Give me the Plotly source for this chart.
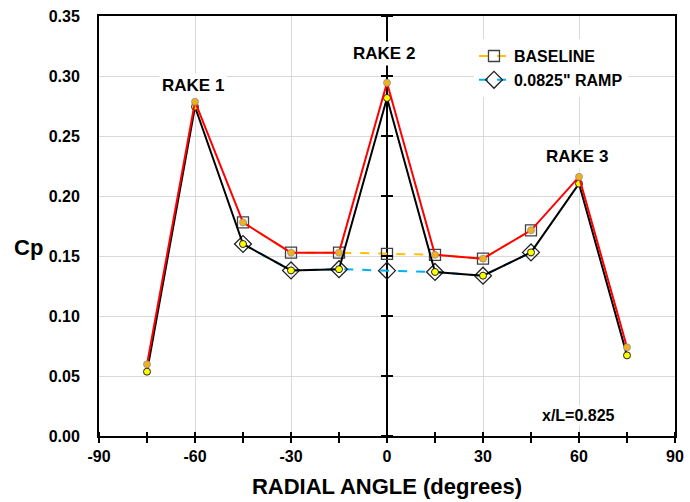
import plotly.graph_objects as go

# ---- data ----
rake_angles = [-75, -60, -45, -30, -15, 0, 15, 30, 45, 60, 75]
baseline_rake_cp = [0.0597, 0.2786, 0.178, 0.1528, 0.1528, 0.2944, 0.151, 0.1478, 0.1714, 0.216, 0.0739]
ramp_rake_cp = [0.0536, 0.2744, 0.160, 0.138, 0.139, 0.2817, 0.1367, 0.1336, 0.153, 0.2103, 0.0672]

probe_angles = [-45, -30, -15, 0, 15, 30, 45]
baseline_cp = [0.178, 0.1528, 0.1528, 0.1517, 0.151, 0.1478, 0.1714]
ramp_cp = [0.160, 0.138, 0.139, 0.1378, 0.1367, 0.1336, 0.153]

x_major = [-90, -60, -30, 0, 30, 60, 90]
x_major_text = ["-90", "-60", "-30", "0", "30", "60", "90"]
x_ticks_minor = [-90, -75, -60, -45, -30, -15, 0, 15, 30, 45, 60, 75, 90]
y_ticks = [0.0, 0.05, 0.10, 0.15, 0.20, 0.25, 0.30, 0.35]

labels = [("RAKE 1", -60.6, 0.2917), ("RAKE 2", -0.9, 0.319), ("RAKE 3", 59.4, 0.2333)]

FONT = "Liberation Sans, Arial, sans-serif"

fig = go.Figure()

# legend series (dashed lines + open markers)
fig.add_trace(go.Scatter(
    x=probe_angles, y=baseline_cp, name="BASELINE", mode="lines+markers",
    line=dict(color="#FFC000", width=2, dash="dash"),
    marker=dict(symbol="square-open", size=11, color="#404040", line=dict(width=1.3, color="#404040")),
    legendgroup="a"))
fig.add_trace(go.Scatter(
    x=probe_angles, y=ramp_cp, name="0.0825\" RAMP", mode="lines+markers",
    line=dict(color="#00B0F0", width=2, dash="dash"),
    marker=dict(symbol="diamond-open", size=13, color="#202020", line=dict(width=1.3, color="#202020")),
    legendgroup="b"))

# rake lines
fig.add_trace(go.Scatter(
    x=rake_angles, y=ramp_rake_cp, mode="lines+markers", showlegend=False,
    line=dict(color="black", width=2),
    marker=dict(symbol="circle", size=7, color="#FFFF00", line=dict(width=1, color="#202020"))))
fig.add_trace(go.Scatter(
    x=rake_angles, y=baseline_rake_cp, mode="lines+markers", showlegend=False,
    line=dict(color="#FF0000", width=2),
    marker=dict(symbol="circle", size=7, color="#F2B01E", line=dict(width=0.8, color="#909090"))))

shapes = []
# crossing ticks on the x=0 line
for v in y_ticks:
    shapes.append(dict(type="line", xref="x", yref="y", xsizemode="pixel", xanchor=0,
                       x0=-6, x1=6, y0=v, y1=v, line=dict(color="black", width=2), layer="above"))
# inside halves of bottom ticks
for v in x_ticks_minor:
    shapes.append(dict(type="line", xref="x", yref="y", ysizemode="pixel", yanchor=0,
                       x0=v, x1=v, y0=0, y1=4, line=dict(color="black", width=2), layer="above"))

annotations = []
for t, ax, ay in labels:
    annotations.append(dict(text=t, x=ax, y=ay, xref="x", yref="y", showarrow=False,
                            font=dict(size=17, family=FONT, color="black", weight="bold"),
                            bgcolor="white", borderpad=2))
annotations.append(dict(text="x/L=0.825", x=59.7, y=0.0175, xref="x", yref="y", showarrow=False,
                        font=dict(size=16, family=FONT, color="black", weight="bold"),
                        bgcolor="white", borderpad=1))
annotations.append(dict(text="Cp", x=-0.123, y=0.448, xref="paper", yref="paper", showarrow=False,
                        xanchor="center", yanchor="middle",
                        font=dict(size=22, family=FONT, color="black", weight="bold")))

fig.update_layout(
    width=690, height=502,
    margin=dict(l=99, r=15, t=16, b=66),
    paper_bgcolor="white", plot_bgcolor="white",
    font=dict(family=FONT, size=16, color="black", weight="bold"),
    shapes=shapes, annotations=annotations,
    legend=dict(x=0.651, y=0.945, xanchor="left", yanchor="top", bgcolor="white",
                font=dict(size=16, family=FONT, color="black", weight="bold"),
                tracegroupgap=9, traceorder="normal"),
    xaxis=dict(range=[-90, 90], tickvals=x_major, ticktext=x_major_text,
               showgrid=True, gridcolor="#D9D9D9", gridwidth=1,
               ticks="outside", ticklen=5, tickwidth=2, tickcolor="black",
               minor=dict(dtick=15, tick0=0, ticks="outside", ticklen=5, tickwidth=2, tickcolor="black", showgrid=False),
               showline=True, linecolor="black", linewidth=2, mirror=True,
               zeroline=True, zerolinecolor="black", zerolinewidth=2,
               ticklabelstandoff=0, automargin=False,
               tickfont=dict(size=16, family=FONT, color="black", weight="bold"),
               title=dict(text="RADIAL ANGLE (degrees)", standoff=14,
                          font=dict(size=22, family=FONT, color="black", weight="bold"))),
    yaxis=dict(range=[0, 0.35], dtick=0.05, tick0=0, tickformat=".2f", showgrid=True,
               gridcolor="#D9D9D9", gridwidth=1, ticks="", zeroline=False,
               showline=True, linecolor="black", linewidth=2, mirror=True,
               ticklabelstandoff=14, automargin=False,
               tickfont=dict(size=16, family=FONT, color="black", weight="bold")),
)

fig.write_html("out.html")
